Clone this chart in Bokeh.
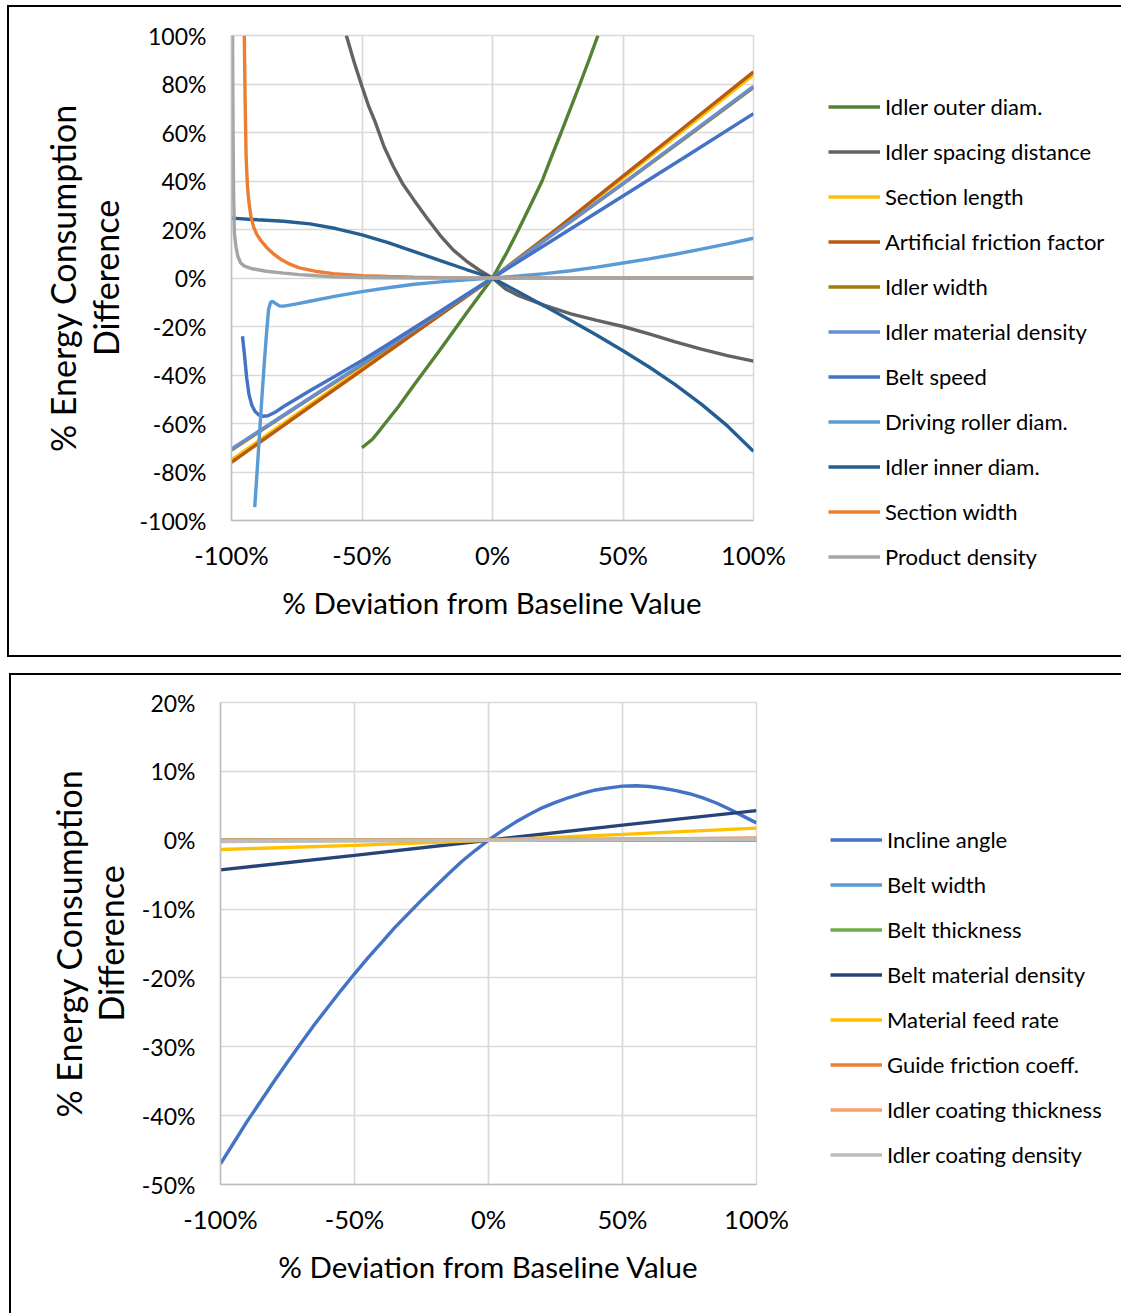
from bokeh.plotting import figure
from bokeh.models import Range1d, FixedTicker, PrintfTickFormatter, Legend, LegendItem
from bokeh.embed import file_html
from bokeh.resources import INLINE

FONT = "Lato"
LW = 3.4

# ---------------- Top chart data (% deviation -> % energy difference) ----------------
x_ticks_top = [-100, -50, 0, 50, 100]
y_ticks_top = [-100, -80, -60, -40, -20, 0, 20, 40, 60, 80, 100]

idler_outer_x = [-50, -46, -43, -36, -30, -20, -10, -5, 0, 5, 10, 15, 19, 22.5, 26.3, 30, 33.5, 37, 40.4]
idler_outer_y = [-70, -66.5, -62.5, -53, -44, -29.5, -14.5, -7.2, 0, 9.5, 20, 31, 40, 49.7, 60, 70.3, 80, 90, 100]

idler_spacing_x = [-56, -53, -50, -47.5, -45, -41.5, -38, -34.5, -30, -25, -20, -15, -10, -5, 0,
                   5, 10, 20, 30, 40, 50, 60, 70, 80, 90, 100]
idler_spacing_y = [100, 89, 79, 71, 64.5, 54, 46, 39, 32, 24.5, 17.5, 11.5, 7, 3.2, 0,
                   -4.5, -7.3, -11.3, -14.8, -17.5, -20, -23, -26.3, -29.3, -32, -34.3]

section_length_x = [-100, -50, 0, 50, 100]
section_length_y = [-75, -37.3, 0, 41.2, 83.8]

friction_x = [-100, -75, -50, -25, 0, 25, 50, 75, 100]
friction_y = [-76, -57, -38, -19, 0, 20.5, 42, 63.5, 85]

idler_width_x = [-100, -75, -50, -25, 0, 25, 50, 75, 100]
idler_width_y = [-71, -53.2, -35.8, -17.8, 0, 19.4, 38.8, 58.6, 78.6]

idler_density_x = [-100, -75, -50, -25, 0, 25, 50, 75, 100]
idler_density_y = [-70.5, -53, -35.5, -17.7, 0, 19.5, 39, 59, 79]

belt_speed_x = [-95.8, -95, -94.2, -93.3, -92.2, -91, -89.5, -88, -86, -83.5, -80, -70, -60, -50,
                -40, -30, -20, -10, 0, 25, 50, 75, 100]
belt_speed_y = [-24, -32, -41, -48, -52.5, -55, -56.5, -57, -56.8, -55.5, -53, -46.5, -40.3, -34,
                -27.3, -20.5, -13.7, -6.8, 0, 16.9, 33.8, 50.7, 67.8]

roller_x = [-91.1, -90.2, -89.3, -88.4, -87.5, -86.6, -85.8, -85.0, -84.3, -83, -81.5, -80, -75, -70,
            -60, -50, -40, -30, -20, -10, 0, 10, 20, 30, 40, 50, 60, 70, 80, 90, 100]
roller_y = [-94.5, -80, -65, -50, -36, -23, -13, -10, -9.6, -10.6, -11.6, -11.6, -10.7, -9.6,
            -7.5, -5.6, -4.0, -2.6, -1.6, -0.7, 0, 0.8, 1.8, 3, 4.5, 6.2, 7.9, 9.8, 11.9, 14.1, 16.4]

idler_inner_x = [-100, -90, -80, -70, -60, -50, -40, -30, -20, -10, 0, 10, 20, 30, 40, 50, 60, 70, 80, 90, 100]
idler_inner_y = [24.7, 24, 23.4, 22.3, 20.4, 17.8, 14.6, 10.9, 7.2, 3.5, 0, -5.8, -11.6, -17.5, -23.6,
                 -30, -36.7, -44, -52, -61, -71.5]

section_width_x = [-95.1, -94.8, -94.4, -93.9, -93.3, -92.5, -91.5, -90.3, -88.8, -86.7, -84, -80.5,
                   -77, -74, -68, -61, -50, -40, -30, -20, -10, 0, 25, 50, 75, 100]
section_width_y = [100, 75, 50, 38, 31, 25, 21, 18, 15.5, 12.8, 10, 7.3, 5.4, 4.2, 2.8, 1.8, 1.0,
                   0.6, 0.3, 0.15, 0.05, 0, 0, 0, 0, 0]

product_density_x = [-99.6, -99.4, -99.2, -98.9, -98.3, -97.6, -96.5, -95, -92, -86.7, -80, -74, -67,
                     -61, -50, -40, -25, 0, 25, 50, 75, 100]
product_density_y = [100, 60, 35, 18.6, 13, 9, 6.2, 4.9, 3.8, 2.8, 2.0, 1.4, 0.9, 0.5, 0.2, 0.1,
                     0.03, 0, 0, 0, 0, 0]

top_series = [
    ("Idler outer diam.", idler_outer_x, idler_outer_y, "#548235"),
    ("Idler spacing distance", idler_spacing_x, idler_spacing_y, "#636363"),
    ("Section length", section_length_x, section_length_y, "#FFC000"),
    ("Artificial friction factor", friction_x, friction_y, "#B85A12"),
    ("Idler width", idler_width_x, idler_width_y, "#A17E0C"),
    ("Idler material density", idler_density_x, idler_density_y, "#698ED0"),
    ("Belt speed", belt_speed_x, belt_speed_y, "#4472C4"),
    ("Driving roller diam.", roller_x, roller_y, "#5B9BD5"),
    ("Idler inner diam.", idler_inner_x, idler_inner_y, "#255E91"),
    ("Section width", section_width_x, section_width_y, "#ED7D31"),
    ("Product density", product_density_x, product_density_y, "#A5A5A5"),
]

# ---------------- Bottom chart data ----------------
x_ticks_bot = [-100, -50, 0, 50, 100]
y_ticks_bot = [-50, -40, -30, -20, -10, 0, 10, 20]

incline_x = [-100, -95, -90, -85, -80, -75, -70, -65, -60, -55, -50, -45, -40, -35, -30, -25, -20,
             -15, -10, -5, 0, 5, 10, 15, 20, 25, 30, 35, 40, 45, 50, 55, 60, 65, 70, 75, 80, 85,
             90, 95, 100]
incline_y = [-47, -43.9, -40.8, -37.9, -35.0, -32.2, -29.5, -26.8, -24.3, -21.8, -19.4, -17.1,
             -14.9, -12.7, -10.7, -8.7, -6.8, -4.9, -3.1, -1.5, 0, 1.35, 2.6, 3.7, 4.7, 5.5, 6.2,
             6.8, 7.3, 7.6, 7.85, 7.9, 7.8, 7.55, 7.2, 6.75, 6.15, 5.4, 4.5, 3.5, 2.5]

belt_width_x = [-100, 0, 100]
belt_width_y = [0, 0, 0]

belt_thickness_x = [-100, 0, 100]
belt_thickness_y = [0, 0, 0]

belt_mat_density_x = [-100, -50, 0, 50, 100]
belt_mat_density_y = [-4.3, -2.2, 0, 2.2, 4.3]

feed_rate_x = [-100, -50, 0, 50, 100]
feed_rate_y = [-1.35, -0.75, 0, 0.85, 1.75]

guide_friction_x = [-100, 0, 100]
guide_friction_y = [-0.05, 0, 0.3]

coating_thickness_x = [-100, 0, 100]
coating_thickness_y = [0, 0, 0.3]

coating_density_x = [-100, 0, 100]
coating_density_y = [-0.2, 0, 0.1]

bot_series = [
    ("Incline angle", incline_x, incline_y, "#4472C4"),
    ("Belt width", belt_width_x, belt_width_y, "#5B9BD5"),
    ("Belt thickness", belt_thickness_x, belt_thickness_y, "#70AD47"),
    ("Belt material density", belt_mat_density_x, belt_mat_density_y, "#264478"),
    ("Material feed rate", feed_rate_x, feed_rate_y, "#FFC000"),
    ("Guide friction coeff.", guide_friction_x, guide_friction_y, "#ED7D31"),
    ("Idler coating thickness", coating_thickness_x, coating_thickness_y, "#F4A36A"),
    ("Idler coating density", coating_density_x, coating_density_y, "#BDBDBD"),
]


def make_chart(width, height, f_left, f_top, f_w, f_h, yr, xticks, yticks, series,
               borders, margin, y_standoff):
    p = figure(width=width, height=height, x_range=Range1d(-100, 100), y_range=Range1d(*yr),
               output_backend="svg", toolbar_location=None, tools="")
    p.min_border_left = f_left
    p.min_border_top = f_top
    p.min_border_right = width - f_left - f_w
    p.min_border_bottom = height - f_top - f_h
    p.background_fill_color = "white"
    p.border_fill_color = "white"
    p.outline_line_color = "#D9D9D9"
    p.outline_line_width = 1.5

    p.xaxis.ticker = FixedTicker(ticks=xticks)
    p.yaxis.ticker = FixedTicker(ticks=yticks)
    for ax in (p.xaxis[0], p.yaxis[0]):
        ax.formatter = PrintfTickFormatter(format="%d%%")
        ax.axis_line_color = "#BFBFBF"
        ax.axis_line_width = 1.5
        ax.major_tick_line_color = None
        ax.minor_tick_line_color = None
        ax.major_label_text_font = FONT
        ax.major_label_text_color = "black"
        ax.axis_label_text_font = FONT
        ax.axis_label_text_font_style = "normal"
        ax.axis_label_text_color = "black"
    p.xaxis.major_label_text_font_size = "25.5px"
    p.yaxis.major_label_text_font_size = "23px"
    p.xaxis.axis_label_text_font_size = "29.5px"
    p.yaxis.axis_label_text_font_size = "34px"
    p.yaxis.axis_label_text_line_height = 1.03
    p.xaxis.axis_label = "% Deviation from Baseline Value"
    p.yaxis.axis_label = "% Energy Consumption\nDifference"
    p.xaxis.major_label_standoff = 13
    p.xaxis.axis_label_standoff = 12
    p.yaxis.major_label_standoff = 19
    p.yaxis.axis_label_standoff = y_standoff
    p.grid.grid_line_color = "#D9D9D9"
    p.grid.grid_line_width = 1.7

    for name, xs, ys, col in series:
        p.line(xs, ys, line_color=col, line_width=LW)
    p.styles = borders
    p.margin = margin
    return p


def make_legend(series, width, height, margin):
    # separate transparent figure that only shows the legend (its data lies outside its ranges)
    lf = figure(width=width, height=height, x_range=Range1d(1000, 1001), y_range=Range1d(1000, 1001),
                output_backend="svg", toolbar_location=None, tools="",
                x_axis_location=None, y_axis_location=None, min_border=0)
    lf.outline_line_color = None
    lf.background_fill_color = None
    lf.border_fill_color = None
    lf.grid.visible = False
    items = []
    for name, xs, ys, col in series:
        r = lf.line(xs, ys, line_color=col, line_width=LW)
        items.append(LegendItem(label=name, renderers=[r]))
    leg = Legend(items=items, location=(0, 0), glyph_width=52, glyph_height=27,
                 label_height=27, spacing=18, label_standoff=5, padding=0, margin=0,
                 border_line_alpha=0, background_fill_alpha=0,
                 label_text_font=FONT, label_text_font_size="22px", label_text_color="black")
    lf.add_layout(leg)
    lf.margin = margin
    return lf


# top panel: element at (7,5), 1114x652 -> ends at y=657
p1 = make_chart(1114, 652, 222, 28, 522, 485, (-100, 100), x_ticks_top, y_ticks_top, top_series,
                {"border-top": "2px solid black", "border-left": "2px solid black",
                 "border-bottom": "2px solid black", "box-sizing": "border-box"},
                (5, 0, 0, 7), 11)
# top legend: 11 rows -> 11*27 + 10*18 = 477 tall, top at y=93 -> ends at 570
leg1 = make_legend(top_series, 285, 477, (-564, 0, 0, 828))
# bottom panel: element at (9,673)
p2 = make_chart(1112, 640, 209, 27, 536, 482, (-50, 20), x_ticks_bot, y_ticks_bot, bot_series,
                {"border-top": "2px solid black", "border-left": "2px solid black",
                 "box-sizing": "border-box"},
                (103, 0, 0, 9), 8)
# bottom legend: 8 rows -> 8*27 + 7*18 = 342 tall, top at y=826 (p2 ends at 1313)
leg2 = make_legend(bot_series, 285, 342, (-487, 0, 0, 830))

open("out.html", "w").write(file_html([p1, leg1, p2, leg2], INLINE))
